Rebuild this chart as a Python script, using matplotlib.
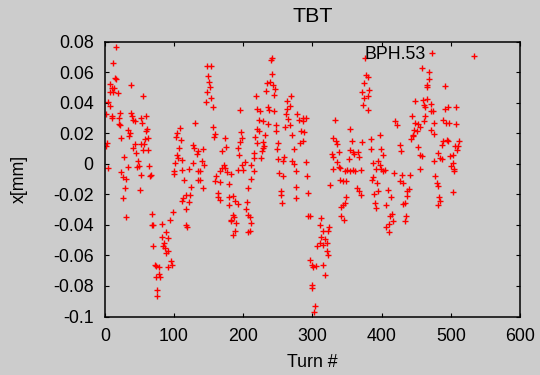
import numpy as np
import matplotlib
matplotlib.use("Agg")
import matplotlib.pyplot as plt
from matplotlib.ticker import FuncFormatter
from matplotlib.lines import Line2D

# turn number / horizontal orbit x[mm] in 4 chunks
turns1 = [16, 12, 15, 16, 7, 11, 14, 7, 12, 19, 38, 55, 5, 8, 2, 10, 10, 22, 20, 20,
          22, 38, 40, 41, 44, 52, 59, 54, 61, 59, 62, 58, 34, 37, 35, 23, 3, 2, 43, 41,
          57, 52, 55, 63, 45, 28, 48, 4, 33, 47, 50, 64, 24, 26, 31, 52, 65, 67, 29, 51,
          26, 30, 68, 68, 70, 83, 88, 82, 92, 86, 84, 69, 87, 92, 89, 95, 97, 92, 72, 74,
          79, 78, 74, 80, 75, 76, 98, 94, 109, 105, 103, 110, 131, 107, 104, 106, 101, 111, 100, 100,
          111, 121, 114, 124, 117, 113, 123, 112, 122, 118, 118, 119, 127, 129, 135, 133, 128, 134, 135]
x1 = [0.0763, 0.0659, 0.0561, 0.0552, 0.0521, 0.0495, 0.0495, 0.0469, 0.0469, 0.0465,
      0.0513, 0.0445, 0.0404, 0.0380, 0.0325, 0.0314, 0.0299, 0.0332, 0.0303, 0.0260,
      0.0251, 0.0332, 0.0314, 0.0288, 0.0277, 0.0303, 0.0314, 0.0266, 0.0227, 0.0212,
      0.0166, 0.0162, 0.0223, 0.0201, 0.0179, 0.0166, 0.0135, 0.0114, 0.0129, 0.0103,
      0.0131, 0.0131, 0.0092, 0.0092, 0.0068, 0.0042, 0.0020, -0.0028, -0.0019, -0.0024,
      -0.0013, -0.0013, -0.0054, -0.0089, -0.0098, -0.0072, -0.0083, -0.0076, -0.0159, -0.0170,
      -0.0224, -0.0346, -0.0329, -0.0403, -0.0403, -0.0394, -0.0447, -0.0477, -0.0486, -0.0519,
      -0.0536, -0.0540, -0.0551, -0.0573, -0.0584, -0.0638, -0.0660, -0.0675, -0.0665, -0.0671,
      -0.0675, -0.0721, -0.0741, -0.0741, -0.0824, -0.0867, -0.0318, -0.0368, 0.0234, 0.0201,
      0.0173, 0.0153, 0.0266, 0.0103, 0.0055, 0.0037, 0.0005, 0.0022, -0.0045, -0.0067,
      -0.0043, -0.0035, -0.0104, -0.0152, -0.0207, -0.0224, -0.0207, -0.0246, -0.0253, -0.0294,
      -0.0403, -0.0414, 0.0125, 0.0103, 0.0085, 0.0064, 0.0005, -0.0104, -0.0050]

turns2 = [241, 240, 148, 153, 149, 151, 152, 148, 154, 146, 157, 241, 234, 239, 243, 246, 233, 244, 218, 269,
          263, 267, 264, 236, 220, 224, 238, 244, 195, 262, 278, 265, 281, 223, 229, 236, 247, 260, 268, 156,
          270, 220, 223, 248, 197, 159, 158, 174, 217, 231, 198, 195, 220, 228, 251, 175, 170, 192, 228, 230,
          273, 249, 142, 216, 194, 227, 215, 226, 251, 259, 257, 271, 273, 202, 199, 212, 140, 143, 138, 172,
          169, 174, 166, 176, 182, 193, 200, 215, 161, 252, 257, 276, 212, 159, 167, 180, 138, 142, 207, 277,
          254, 254, 276, 163, 164, 166, 179, 186, 188, 205, 192, 180, 256, 204, 207, 210, 186, 187, 183, 182,
          190, 211, 188, 185, 207, 210]
x2 = [0.0696, 0.0680, 0.0643, 0.0643, 0.0574, 0.0534, 0.0500, 0.0473, 0.0430, 0.0404,
      0.0375, 0.0587, 0.0528, 0.0534, 0.0517, 0.0491, 0.0478, 0.0452, 0.0447, 0.0447,
      0.0412, 0.0380, 0.0360, 0.0375, 0.0360, 0.0347, 0.0353, 0.0347, 0.0351, 0.0325,
      0.0325, 0.0295, 0.0288, 0.0288, 0.0282, 0.0260, 0.0251, 0.0244, 0.0251, 0.0238,
      0.0190, 0.0229, 0.0216, 0.0212, 0.0207, 0.0194, 0.0173, 0.0168, 0.0177, 0.0190,
      0.0168, 0.0142, 0.0136, 0.0142, 0.0136, 0.0107, 0.0085, 0.0103, 0.0103, 0.0116,
      0.0098, 0.0098, 0.0098, 0.0070, 0.0059, 0.0081, 0.0037, 0.0037, 0.0033, 0.0042,
      0.0020, 0.0020, -0.0002, 0.0009, -0.0006, -0.0011, 0.0016, -0.0011, -0.0050, -0.0006,
      -0.0028, -0.0028, -0.0050, -0.0054, -0.0067, -0.0039, -0.0039, -0.0045, -0.0083, -0.0061,
      -0.0083, -0.0050, -0.0098, -0.0115, -0.0120, -0.0133, -0.0104, -0.0159, -0.0159, -0.0154,
      -0.0176, -0.0202, -0.0224, -0.0192, -0.0220, -0.0235, -0.0220, -0.0213, -0.0242, -0.0250,
      -0.0263, -0.0272, -0.0257, -0.0294, -0.0333, -0.0351, -0.0338, -0.0351, -0.0366, -0.0372,
      -0.0388, -0.0388, -0.0442, -0.0468, -0.0447, -0.0438]

turns3 = [376, 378, 380, 375, 382, 372, 374, 381, 373, 380, 286, 291, 286, 333, 283, 288, 286, 282, 354, 330,
          334, 336, 357, 371, 384, 398, 419, 422, 384, 399, 402, 355, 359, 366, 338, 328, 330, 360, 368,
          353, 336, 339, 330, 340, 388, 395, 397, 392, 399, 402, 405, 291, 370, 350, 354, 359, 347, 362, 340,
          344, 349, 388, 386, 394, 418, 292, 325, 365, 368, 395, 389, 370, 409, 413, 294, 349, 347, 344, 341,
          390, 392, 406, 342, 346, 415, 412, 416, 410, 407, 411, 294, 297, 312, 311, 324, 316, 322, 313, 318,
          311, 307, 321, 316, 321, 323, 297, 299, 301, 305, 315, 318, 300, 299, 304, 302]
x3 = [0.0696, 0.0582, 0.0571, 0.0528, 0.0484, 0.0469, 0.0434, 0.0445, 0.0386, 0.0353,
      0.0303, 0.0299, 0.0282, 0.0288, 0.0212, 0.0207, 0.0146, 0.0135, 0.0227, 0.0168,
      0.0151, 0.0129, 0.0151, 0.0142, 0.0164, 0.0190, 0.0282, 0.0255, 0.0098, 0.0096,
      0.0059, 0.0092, 0.0077, 0.0077, 0.0074, 0.0066, 0.0042, 0.0064, 0.0042,
      0.0033, 0.0011, -0.0024, -0.0032, -0.0028, 0.0005, 0.0016, -0.0011, -0.0032, -0.0032,
      -0.0050, -0.0039, 0.0011, -0.0039, -0.0039, -0.0050, -0.0039, -0.0050, -0.0045, -0.0104,
      -0.0111, -0.0111, -0.0089, -0.0104, -0.0126, -0.0061, -0.0083, -0.0137, -0.0159, -0.0176,
      -0.0176, -0.0198, -0.0202, -0.0170, -0.0220, -0.0192, -0.0220, -0.0257, -0.0272, -0.0285,
      -0.0257, -0.0290, -0.0268, -0.0344, -0.0366, -0.0329, -0.0344, -0.0377, -0.0394, -0.0416,
      -0.0447, -0.0344, -0.0344, -0.0355, -0.0403, -0.0416, -0.0442, -0.0438, -0.0481, -0.0490,
      -0.0519, -0.0540, -0.0519, -0.0529, -0.0573, -0.0599, -0.0627, -0.0660, -0.0678, -0.0671,
      -0.0660, -0.0726, -0.0795, -0.0813, -0.0933, -0.0970]

turns4 = [533, 459, 468, 469, 465, 466, 492, 448, 460, 466, 461, 472, 463, 492, 496, 507, 471, 474, 444, 463,
          448, 453, 475, 461, 489, 493, 498, 507, 447, 451, 455, 472, 475, 445, 443, 446, 488, 494, 496, 512,
          487, 506, 511, 509, 427, 428, 452, 456, 459, 481, 484, 487, 476, 499, 503, 503, 500, 505, 504, 456,
          429, 441, 477, 427, 431, 480, 481, 439, 437, 436, 503, 483, 484, 482, 431, 434, 435, 434]
x4 = [0.0709, 0.0626, 0.0598, 0.0556, 0.0517, 0.0506, 0.0510, 0.0412, 0.0419, 0.0425,
      0.0386, 0.0391, 0.0369, 0.0360, 0.0373, 0.0375, 0.0343, 0.0347, 0.0310, 0.0316,
      0.0266, 0.0260, 0.0266, 0.0282, 0.0288, 0.0266, 0.0266, 0.0262, 0.0223, 0.0216,
      0.0238, 0.0223, 0.0194, 0.0190, 0.0164, 0.0179, 0.0146, 0.0157, 0.0151, 0.0146,
      0.0125, 0.0114, 0.0118, 0.0092, 0.0125, 0.0085, 0.0107, 0.0059, 0.0048, 0.0070,
      0.0037, 0.0033, 0.0016, 0.0048, 0.0059, 0.0005, -0.0013, -0.0045, -0.0032, -0.0035,
      -0.0072, -0.0072, -0.0078, -0.0115, -0.0126, -0.0126, -0.0148, -0.0163, -0.0176, -0.0213,
      -0.0185, -0.0220, -0.0246, -0.0272, -0.0263, -0.0257, -0.0344, -0.0377]

turns = np.array(turns1 + turns2 + turns3 + turns4)
x_mm = np.array(x1 + x2 + x3 + x4)

xticks = [0, 100, 200, 300, 400, 500, 600]
yticks = [-0.1, -0.08, -0.06, -0.04, -0.02, 0, 0.02, 0.04, 0.06, 0.08]

bg = "#cccccc"
plt.rcParams["font.family"] = ["Liberation Sans", "DejaVu Sans"]
plt.rcParams["font.size"] = 12.8

fig = plt.figure(figsize=(5.4, 3.75), dpi=100, facecolor=bg)
ax = fig.add_axes([0.194, 0.156, 0.769, 0.733], facecolor=bg)

ax.plot(turns, x_mm, linestyle="none", marker="+", color="red",
        markersize=4.5, markeredgewidth=1.0)

ax.set_xlim(0, 600)
ax.set_ylim(-0.1, 0.08)
ax.set_xticks(xticks)
ax.set_yticks(yticks)
ax.yaxis.set_major_formatter(FuncFormatter(lambda v, p: "%g" % round(v, 4) if abs(v) > 1e-9 else "0"))
ax.tick_params(direction="in", length=3.2, width=0.8, top=True, right=True, pad=8)
for s in ax.spines.values():
    s.set_linewidth(1.1)

ax.set_title("TBT", pad=14)
ax.set_xlabel("Turn #")
ax.set_ylabel("x[mm]")
ax.xaxis.set_label_coords(0.5, -0.136)
ax.yaxis.set_label_coords(-0.185, 0.5)

# gnuplot-style key: title then point sample
key = Line2D([], [], linestyle="none", marker="+", color="red",
             markersize=4.5, markeredgewidth=1.0)
leg = ax.legend([key], ["BPH.53"], loc="center right", bbox_to_anchor=(0.8035, 0.953),
                markerfirst=False, frameon=False, handlelength=0.7, handletextpad=0.0,
                borderpad=0, borderaxespad=0, numpoints=1, fontsize=12.8)
leg.set_zorder(5)

plt.savefig("out.png", dpi=100, facecolor=bg)
